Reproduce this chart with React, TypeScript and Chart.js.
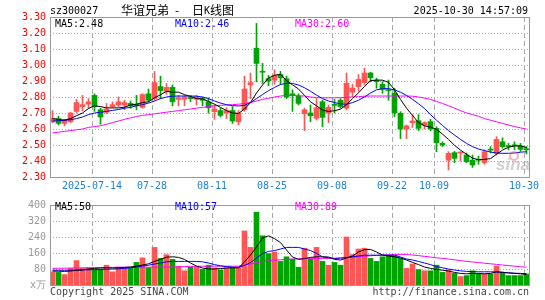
import { useEffect, useRef } from 'react';
import { Chart, registerables } from 'chart.js';

Chart.register(...registerables);

// ---------------- data ----------------
const dates = [
  '07-03', '07-04', '07-07', '07-08', '07-09', '07-10', '07-11', '07-14', '07-15', '07-16',
  '07-17', '07-18', '07-21', '07-22', '07-23', '07-24', '07-25', '07-28', '07-29', '07-30',
  '07-31', '08-01', '08-04', '08-05', '08-06', '08-07', '08-08', '08-11', '08-12', '08-13',
  '08-14', '08-15', '08-18', '08-19', '08-20', '08-21', '08-22', '08-25', '08-26', '08-27',
  '08-28', '08-29', '09-01', '09-02', '09-03', '09-04', '09-05', '09-08', '09-09', '09-10',
  '09-11', '09-12', '09-15', '09-16', '09-17', '09-18', '09-19', '09-22', '09-23', '09-24',
  '09-25', '09-26', '09-29', '09-30', '10-09', '10-10', '10-13', '10-14', '10-15', '10-16',
  '10-17', '10-20', '10-21', '10-22', '10-23', '10-24', '10-27', '10-28', '10-29', '10-30',
];

const openPrices = [
  2.645, 2.665, 2.635, 2.645, 2.71, 2.74, 2.755, 2.81, 2.72, 2.705,
  2.74, 2.75, 2.75, 2.76, 2.755, 2.735, 2.82, 2.79, 2.865, 2.835,
  2.86, 2.785, 2.786, 2.795, 2.786, 2.79, 2.77, 2.708, 2.715, 2.70,
  2.715, 2.645, 2.72, 2.875, 3.105, 2.96, 2.915, 2.905, 2.94, 2.915,
  2.82, 2.805, 2.695, 2.70, 2.667, 2.77, 2.70, 2.755, 2.78, 2.73,
  2.83, 2.865, 2.89, 2.95, 2.905, 2.88, 2.845, 2.823, 2.698, 2.60,
  2.64, 2.652, 2.625, 2.646, 2.604, 2.51, 2.405, 2.452, 2.45, 2.4375,
  2.405, 2.41, 2.39, 2.472, 2.448, 2.52, 2.495, 2.50, 2.494, 2.475,
];
const highPrices = [
  2.715, 2.68, 2.66, 2.705, 2.785, 2.81, 2.79, 2.82, 2.73, 2.76,
  2.77, 2.80, 2.78, 2.775, 2.81, 2.82, 2.85, 2.96, 2.93, 2.885,
  2.875, 2.81, 2.81, 2.81, 2.81, 2.80, 2.795, 2.75, 2.73, 2.733,
  2.74, 2.715, 2.93, 2.95, 3.26, 3.01, 2.935, 2.97, 2.96, 2.93,
  2.845, 2.82, 2.73, 2.75, 2.79, 2.78, 2.75, 2.785, 2.79, 2.95,
  2.88, 2.94, 2.98, 2.955, 2.917, 2.896, 2.906, 2.855, 2.708, 2.625,
  2.69, 2.69, 2.645, 2.66, 2.614, 2.52, 2.458, 2.46, 2.458, 2.45,
  2.4375, 2.43, 2.47, 2.49, 2.552, 2.545, 2.51, 2.52, 2.51, 2.49,
];
const lowPrices = [
  2.64, 2.625, 2.62, 2.64, 2.70, 2.714, 2.73, 2.71, 2.63, 2.695,
  2.735, 2.74, 2.72, 2.73, 2.72, 2.73, 2.77, 2.78, 2.79, 2.817,
  2.745, 2.745, 2.745, 2.77, 2.75, 2.745, 2.70, 2.66, 2.675, 2.665,
  2.635, 2.625, 2.71, 2.79, 2.895, 2.885, 2.87, 2.88, 2.88, 2.79,
  2.71, 2.75, 2.59, 2.646, 2.656, 2.614, 2.64, 2.70, 2.73, 2.72,
  2.80, 2.835, 2.875, 2.895, 2.855, 2.823, 2.78, 2.677, 2.54, 2.54,
  2.61, 2.59, 2.60, 2.59, 2.458, 2.49, 2.344, 2.39, 2.40, 2.39,
  2.36, 2.38, 2.38, 2.45, 2.4375, 2.48, 2.47, 2.47, 2.46, 2.444,
];
const closePrices = [
  2.665, 2.635, 2.655, 2.70, 2.765, 2.752, 2.77, 2.74, 2.675, 2.725,
  2.752, 2.77, 2.765, 2.745, 2.745, 2.815, 2.78, 2.89, 2.84, 2.86,
  2.77, 2.795, 2.80, 2.79, 2.80, 2.78, 2.733, 2.725, 2.685, 2.715,
  2.65, 2.70, 2.85, 2.89, 3.01, 2.955, 2.90, 2.935, 2.92, 2.80,
  2.81, 2.76, 2.72, 2.683, 2.733, 2.673, 2.735, 2.748, 2.74, 2.886,
  2.855, 2.91, 2.95, 2.92, 2.896, 2.848, 2.84, 2.70, 2.60, 2.62,
  2.65, 2.604, 2.64, 2.60, 2.514, 2.50, 2.448, 2.417, 2.455, 2.396,
  2.375, 2.405, 2.458, 2.468, 2.535, 2.49, 2.49, 2.495, 2.473, 2.47,
];

const ma5 = [
  2.665, 2.66, 2.655, 2.665, 2.683, 2.70, 2.728, 2.745, 2.74, 2.732,
  2.732, 2.732, 2.736, 2.75, 2.755, 2.765, 2.77, 2.795, 2.814, 2.835,
  2.83, 2.83, 2.815, 2.803, 2.79, 2.788, 2.772, 2.755, 2.735, 2.715,
  2.70, 2.697, 2.725, 2.765, 2.825, 2.875, 2.918, 2.936, 2.942, 2.903,
  2.876, 2.85, 2.81, 2.77, 2.745, 2.718, 2.71, 2.714, 2.724, 2.752,
  2.79, 2.826, 2.866, 2.902, 2.906, 2.905, 2.892, 2.845, 2.785, 2.73,
  2.685, 2.64, 2.62, 2.612, 2.598, 2.568, 2.535, 2.498, 2.468, 2.442,
  2.418, 2.408, 2.41, 2.415, 2.442, 2.468, 2.486, 2.494, 2.495, 2.484,
];
const ma10 = [
  2.65, 2.652, 2.655, 2.658, 2.665, 2.675, 2.69, 2.70, 2.705, 2.71,
  2.716, 2.722, 2.73, 2.735, 2.745, 2.752, 2.762, 2.775, 2.79, 2.80,
  2.805, 2.806, 2.806, 2.806, 2.805, 2.80, 2.79, 2.775, 2.762, 2.752,
  2.746, 2.744, 2.748, 2.765, 2.79, 2.815, 2.84, 2.86, 2.878, 2.886,
  2.885, 2.875, 2.858, 2.836, 2.812, 2.79, 2.775, 2.765, 2.757, 2.755,
  2.765, 2.78, 2.80, 2.825, 2.845, 2.852, 2.852, 2.845, 2.83, 2.81,
  2.785, 2.758, 2.728, 2.69, 2.655, 2.622, 2.59, 2.562, 2.535, 2.51,
  2.49, 2.475, 2.465, 2.456, 2.45, 2.448, 2.448, 2.45, 2.455, 2.458,
];
const ma30 = [
  2.575, 2.58, 2.585, 2.59, 2.595, 2.60, 2.61, 2.615, 2.62, 2.63,
  2.64, 2.65, 2.66, 2.67, 2.678, 2.685, 2.69, 2.695, 2.70, 2.705,
  2.71, 2.715, 2.72, 2.725, 2.73, 2.735, 2.74, 2.745, 2.748, 2.75,
  2.752, 2.755, 2.76, 2.765, 2.775, 2.785, 2.792, 2.80, 2.806, 2.81,
  2.81, 2.808, 2.806, 2.80, 2.796, 2.795, 2.795, 2.795, 2.796, 2.798,
  2.80, 2.802, 2.805, 2.806, 2.806, 2.806, 2.806, 2.806, 2.806, 2.806,
  2.805, 2.80, 2.793, 2.785, 2.772, 2.76, 2.745, 2.73, 2.715, 2.70,
  2.69, 2.68, 2.665, 2.655, 2.645, 2.635, 2.625, 2.615, 2.607, 2.60,
];

const volumes = [
  66, 63, 52, 83, 122, 83, 86, 75, 78, 99,
  66, 89, 86, 83, 113, 136, 86, 188, 133, 152,
  128, 94, 71, 89, 89, 78, 99, 86, 75, 86,
  86, 91, 270, 188, 364, 246, 157, 165, 118, 141,
  129, 89, 184, 130, 188, 118, 99, 113, 99, 240,
  152, 180, 184, 133, 118, 141, 149, 146, 133, 83,
  105, 77, 71, 71, 99, 63, 75, 58, 42, 47,
  71, 55, 55, 55, 94, 63, 47, 47, 47, 55,
];
const volMa5 = [
  70, 69, 68, 70, 73, 76, 80, 83, 85, 86,
  85, 86, 88, 90, 94, 100, 106, 118, 128, 139,
  141, 138, 128, 110, 95, 85, 80, 80, 82, 85,
  86, 86, 115, 150, 190, 235, 246, 232, 212, 175,
  140, 128, 132, 138, 141, 141, 140, 128, 125, 135,
  145, 165, 177, 178, 165, 150, 145, 141, 135, 125,
  113, 102, 90, 83, 78, 74, 70, 63, 58, 56,
  58, 58, 56, 58, 66, 64, 60, 58, 56, 52,
];
const volMa10 = [
  74, 74, 74, 74, 75, 75, 76, 77, 78, 79,
  80, 81, 83, 86, 90, 95, 99, 105, 110, 116,
  118, 118, 118, 118, 118, 116, 110, 102, 96, 92,
  89, 88, 98, 112, 135, 157, 168, 172, 180, 188,
  188, 188, 180, 172, 158, 141, 136, 133, 135, 138,
  141, 145, 149, 149, 149, 149, 149, 149, 140, 130,
  125, 118, 110, 102, 92, 86, 80, 75, 71, 68,
  67, 66, 66, 66, 65, 63, 61, 59, 58, 57,
];
const volMa30 = [
  83, 84, 84, 85, 85, 86, 86, 87, 87, 88,
  88, 89, 89, 89, 89, 89, 89, 89, 90, 90,
  90, 91, 92, 93, 93, 94, 94, 94, 94, 94,
  94, 94, 100, 105, 112, 117, 120, 125, 126, 128,
  130, 131, 132, 133, 133, 133, 133, 133, 134, 136,
  139, 141, 144, 146, 148, 150, 151, 152, 152, 152,
  150, 147, 143, 140, 136, 133, 130, 126, 122, 118,
  115, 112, 109, 106, 103, 100, 97, 94, 91, 89,
];

const priceTicks = [2.3, 2.4, 2.5, 2.6, 2.7, 2.8, 2.9, 3.0, 3.1, 3.2, 3.3];
const volumeTicks = [0, 80, 160, 240, 320, 400];
const dateTickIndex = [7, 17, 27, 37, 47, 57, 64, 79];
const dateTickLabels = ['2025-07-14', '07-28', '08-11', '08-25', '09-08', '09-22', '10-09', '10-30'];

const priceLegend = ['MA5:2.48', 'MA10:2.46', 'MA30:2.60'];
const volumeLegend = ['MA5:50', 'MA10:57', 'MA30:89'];

// ---------------- styles ----------------
const RED = '#ff5555';
const GREEN = '#00a400';
const MA_COLORS = ['#000000', '#0000ff', '#ff00ff'];
const MONO = '"DejaVu Sans Mono", "Liberation Mono", monospace';
const CJK = '"Noto Sans CJK SC", sans-serif';
const SLOT_OFFSET = 2.5 / 6; // candle centre inside its day slot
const N = dates.length;

const candleColors = closePrices.map((c, i) => (c >= openPrices[i] ? RED : GREEN));
const xPos = dates.map((_, i) => i + SLOT_OFFSET);

function framePlugin(hTicks: number[]) {
  return {
    id: 'frame',
    beforeDatasetsDraw(chart: any) {
      const { ctx, chartArea: a, scales } = chart;
      const x = scales.x;
      const y = scales.y;
      ctx.save();
      ctx.lineWidth = 1;
      ctx.strokeStyle = '#a8a8a8';
      ctx.setLineDash([1, 2]);
      for (const t of hTicks) {
        const py = Math.round(y.getPixelForValue(t)) + 0.5;
        if (py <= a.top + 1 || py >= a.bottom - 1) continue;
        ctx.beginPath();
        ctx.moveTo(a.left, py);
        ctx.lineTo(a.right, py);
        ctx.stroke();
      }
      ctx.setLineDash([5, 3]);
      for (const idx of dateTickIndex) {
        const px = Math.round(x.getPixelForValue(idx)) + 0.5;
        ctx.beginPath();
        ctx.moveTo(px, a.top);
        ctx.lineTo(px, a.bottom);
        ctx.stroke();
      }
      ctx.restore();
    },
    afterDatasetsDraw(chart: any) {
      const { ctx, chartArea: a } = chart;
      ctx.save();
      ctx.lineWidth = 1;
      ctx.strokeStyle = '#999999';
      ctx.setLineDash([]);
      ctx.strokeRect(a.left + 0.5, a.top + 0.5, a.right - a.left - 1, a.bottom - a.top);
      ctx.restore();
    },
  };
}

function lineDataset(values: number[], color: string) {
  return {
    type: 'line' as const,
    data: values.map((v, i) => ({ x: xPos[i], y: v })),
    borderColor: color,
    borderWidth: 1,
    pointRadius: 0,
    tension: 0,
    order: 0,
  };
}

const priceTextPlugin = {
  id: 'priceText',
  afterDraw(chart: any) {
    const { ctx } = chart;
    ctx.save();
    ctx.textBaseline = 'middle';
    ctx.font = `10px ${MONO}`;
    ctx.fillStyle = '#000';
    ctx.textAlign = 'left';
    ctx.fillText('sz300027', 50, 11);
    ctx.textAlign = 'right';
    ctx.fillText('2025-10-30 14:57:09', 528, 11);
    ctx.textAlign = 'left';
    ctx.font = `12px ${CJK}`;
    ctx.fillText('华谊兄弟', 121, 10);
    ctx.fillText('-', 175, 10);
    ctx.fillText('日', 192, 10);
    ctx.font = `10px ${MONO}`;
    ctx.fillText('K', 204, 11);
    ctx.font = `12px ${CJK}`;
    ctx.fillText('线图', 210, 10);
    ctx.font = `10px ${MONO}`;
    const lx = [55, 175, 295];
    priceLegend.forEach((t, k) => {
      ctx.fillStyle = MA_COLORS[k];
      ctx.fillText(t, lx[k], 24);
    });
    // watermark
    ctx.font = `italic bold 17px "Liberation Sans", sans-serif`;
    ctx.fillStyle = 'rgba(150,150,150,0.45)';
    ctx.textBaseline = 'alphabetic';
    ctx.fillText('sina', 496, 170);
    ctx.beginPath();
    ctx.arc(514, 156, 4, 0, Math.PI * 2);
    ctx.strokeStyle = 'rgba(240,90,90,0.45)';
    ctx.lineWidth = 2;
    ctx.stroke();
    ctx.restore();
  },
};

const volumeTextPlugin = {
  id: 'volumeText',
  afterDraw(chart: any) {
    const { ctx } = chart;
    ctx.save();
    ctx.textBaseline = 'middle';
    ctx.font = `10px ${MONO}`;
    const lx = [55, 175, 295];
    volumeLegend.forEach((t, k) => {
      ctx.fillStyle = MA_COLORS[k];
      ctx.fillText(t, lx[k], 12);
    });
    ctx.fillStyle = '#444';
    ctx.textAlign = 'left';
    ctx.fillText('Copyright 2025 SINA.COM', 50, 97);
    ctx.textAlign = 'right';
    ctx.fillText('http://finance.sina.com.cn', 529, 97);
    ctx.restore();
  },
};

function xScale(showTicks: boolean) {
  return {
    type: 'linear' as const,
    min: 0,
    max: N,
    offset: false,
    display: showTicks,
    grid: { display: false, drawTicks: false },
    border: { display: false },
    afterBuildTicks: (s: any) => {
      s.ticks = dateTickIndex.map((v) => ({ value: v }));
    },
    afterFit: (s: any) => {
      if (showTicks) s.height = 18;
    },
    ticks: {
      autoSkip: false,
      maxRotation: 0,
      minRotation: 0,
      padding: 3,
      color: '#1e82d2',
      font: { family: MONO, size: 10 },
      callback: (v: any) => {
        const k = dateTickIndex.indexOf(Number(v));
        return k >= 0 ? dateTickLabels[k] : '';
      },
    },
  };
}

export default function App() {
  const priceRef = useRef<HTMLCanvasElement>(null);
  const volRef = useRef<HTMLCanvasElement>(null);

  useEffect(() => {
    const price = new Chart(priceRef.current as HTMLCanvasElement, {
      type: 'bar',
      data: {
        datasets: [
          lineDataset(ma5, MA_COLORS[0]),
          lineDataset(ma10, MA_COLORS[1]),
          lineDataset(ma30, MA_COLORS[2]),
          {
            type: 'bar',
            data: xPos.map((x, i) => ({ x, y: [lowPrices[i], highPrices[i]] })),
            backgroundColor: candleColors,
            barThickness: 1,
            grouped: false,
            order: 2,
          } as any,
          {
            type: 'bar',
            data: xPos.map((x, i) => ({
              x,
              y: [Math.min(openPrices[i], closePrices[i]), Math.max(openPrices[i], closePrices[i])],
            })),
            backgroundColor: candleColors,
            barThickness: 5,
            minBarLength: 1,
            grouped: false,
            order: 1,
          } as any,
        ],
      },
      options: {
        animation: false,
        responsive: false,
        devicePixelRatio: 1,
        layout: { padding: { top: 17, right: 15, left: 0, bottom: 0 } },
        plugins: { legend: { display: false }, tooltip: { enabled: false } },
        scales: {
          x: xScale(true) as any,
          y: {
            type: 'linear',
            min: 2.3,
            max: 3.3,
            grid: { display: false, drawTicks: false },
            border: { display: false },
            afterBuildTicks: (s: any) => {
              s.ticks = priceTicks.map((v) => ({ value: v }));
            },
            afterFit: (s: any) => {
              s.width = 50;
            },
            ticks: {
              padding: 4,
              color: '#ff0000',
              font: { family: MONO, size: 10 },
              callback: (v: any) => Number(v).toFixed(2),
            },
          } as any,
        },
      },
      plugins: [framePlugin(priceTicks), priceTextPlugin],
    });

    const volume = new Chart(volRef.current as HTMLCanvasElement, {
      type: 'bar',
      data: {
        datasets: [
          lineDataset(volMa5, MA_COLORS[0]),
          lineDataset(volMa10, MA_COLORS[1]),
          lineDataset(volMa30, MA_COLORS[2]),
          {
            type: 'bar',
            data: xPos.map((x, i) => ({ x, y: volumes[i] })),
            backgroundColor: candleColors,
            barThickness: 5,
            grouped: false,
            order: 1,
          } as any,
        ],
      },
      options: {
        animation: false,
        responsive: false,
        devicePixelRatio: 1,
        layout: { padding: { top: 5, right: 15, left: 0, bottom: 15 } },
        plugins: { legend: { display: false }, tooltip: { enabled: false } },
        scales: {
          x: xScale(false) as any,
          y: {
            type: 'linear',
            min: 0,
            max: 400,
            grid: { display: false, drawTicks: false },
            border: { display: false },
            afterBuildTicks: (s: any) => {
              s.ticks = volumeTicks.map((v) => ({ value: v }));
            },
            afterFit: (s: any) => {
              s.width = 50;
            },
            ticks: {
              padding: 4,
              color: '#999999',
              font: { family: MONO, size: 10 },
              callback: (v: any) => (Number(v) === 0 ? 'x万' : String(v)),
            },
          } as any,
        },
      },
      plugins: [framePlugin(volumeTicks), volumeTextPlugin],
    });

    return () => {
      price.destroy();
      volume.destroy();
    };
  }, []);

  return (
    <div style={{ position: 'absolute', left: 0, top: 0, width: 545, height: 300, background: '#ffffff' }}>
      <canvas
        ref={priceRef}
        width={545}
        height={195}
        style={{ position: 'absolute', left: 0, top: 0, width: 545, height: 195 }}
      />
      <canvas
        ref={volRef}
        width={545}
        height={105}
        style={{ position: 'absolute', left: 0, top: 195, width: 545, height: 105 }}
      />
    </div>
  );
}
